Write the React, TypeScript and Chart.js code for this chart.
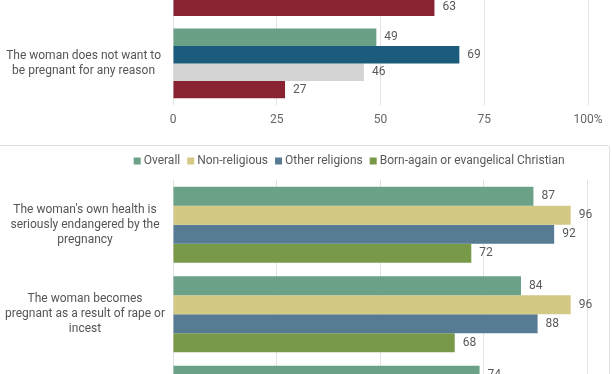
import React, { useEffect, useRef } from 'react';
import { Chart, registerables } from 'chart.js';

Chart.register(...registerables);

// ---------- data ----------
const topCategories: string[][] = [[''], ['The woman does not want to', 'be pregnant for any reason']];
const topSeriesNames = ['Overall', 'Democrat', 'Independent', 'Republican'];
const topOverall = [null, 49];
const topDemocrat = [null, 69];
const topIndependent = [null, 46];
const topRepublican = [63, 27];
const topColors = ['#6aa085', '#1b5b7b', '#d4d4d4', '#8a2331'];

const bottomCategories: string[][] = [
  ["The woman's own health is", 'seriously endangered by the', 'pregnancy'],
  ['The woman becomes', 'pregnant as a result of rape or', 'incest'],
  [''],
];
const bottomSeriesNames = ['Overall', 'Non-religious', 'Other religions', 'Born-again or evangelical Christian'];
const bottomOverall = [87, 84, 74];
const bottomNonReligious = [96, 96, null];
const bottomOtherReligions = [92, 88, null];
const bottomBornAgain = [72, 68, null];
const bottomColors = ['#6ba287', '#d4c984', '#577b93', '#789a48'];

const xTickValues = [0, 25, 50, 75, 100];
const xTickLabels = ['0', '25', '50', '75', '100%'];

// ---------- plugins ----------
const valueLabels = {
  id: 'valueLabels',
  afterDatasetsDraw(chart: any) {
    const { ctx } = chart;
    ctx.save();
    ctx.font = '12px Roboto';
    ctx.fillStyle = '#595959';
    ctx.textAlign = 'left';
    ctx.textBaseline = 'middle';
    chart.data.datasets.forEach((ds: any, i: number) => {
      const meta = chart.getDatasetMeta(i);
      if (meta.hidden) return;
      meta.data.forEach((el: any, j: number) => {
        const v = ds.data[j];
        if (v === null || v === undefined) return;
        ctx.fillText(String(v), el.x + 8, el.y);
      });
    });
    ctx.restore();
  },
};

const legendTweak = {
  id: 'legendTweak',
  beforeLayout(chart: any, _args: any, opts: any) {
    const lg = chart.legend;
    if (lg && !lg.__tweaked) {
      const fit = lg.fit;
      lg.fit = function () {
        fit.call(this);
        this.height += opts.extraHeight || 0;
      };
      lg.__tweaked = true;
    }
  },
  afterLayout(chart: any, _args: any, opts: any) {
    const lg = chart.legend;
    if (lg) {
      lg.left += opts.shiftX || 0;
      lg.right += opts.shiftX || 0;
    }
  },
};

function xScale(tickPadding: number) {
  return {
    type: 'linear' as const,
    min: 0,
    max: 100,
    afterBuildTicks: (scale: any) => {
      scale.ticks = xTickValues.map((v) => ({ value: v }));
    },
    ticks: {
      padding: tickPadding,
      color: '#666666',
      font: { size: 12, family: 'Roboto' },
      callback: (v: any) => {
        const idx = xTickValues.indexOf(Number(v));
        return idx >= 0 ? xTickLabels[idx] : '';
      },
    },
    grid: { color: '#e2e2e2', drawTicks: false, lineWidth: 1 },
    border: { display: false },
  };
}

function yScale(padding: number, lineHeight: number) {
  return {
    type: 'category' as const,
    afterFit: (scale: any) => {
      scale.width = 173;
      scale.paddingTop = 0;
      scale.paddingBottom = 0;
    },
    ticks: {
      crossAlign: 'center' as const,
      padding,
      color: '#555555',
      font: { size: 12, family: 'Roboto', lineHeight },
      autoSkip: false,
    },
    grid: { display: false, drawTicks: false },
    border: { display: false },
  };
}

function TopChart() {
  const ref = useRef<HTMLCanvasElement | null>(null);
  useEffect(() => {
    if (!ref.current) return;
    const series = [topOverall, topDemocrat, topIndependent, topRepublican];
    const chart = new Chart(ref.current, {
      type: 'bar',
      data: {
        labels: topCategories,
        datasets: series.map((d, i) => ({
          label: topSeriesNames[i],
          data: d,
          backgroundColor: topColors[i],
          borderWidth: 0,
          categoryPercentage: 0.848,
          barPercentage: 1,
        })),
      },
      options: {
        indexAxis: 'y',
        responsive: false,
        animation: false,
        layout: { padding: { top: 0, right: 24, bottom: 5, left: 0 } },
        plugins: { legend: { display: false }, tooltip: { enabled: false } },
        scales: { x: xScale(8), y: yScale(12, 1.2) },
      },
      plugins: [valueLabels],
    } as any);
    return () => chart.destroy();
  }, []);
  return (
    <div style={{ position: 'absolute', left: 0, top: -60, width: 612, height: 200 }}>
      <canvas ref={ref} width={612} height={200} />
    </div>
  );
}

function BottomChart() {
  const ref = useRef<HTMLCanvasElement | null>(null);
  useEffect(() => {
    if (!ref.current) return;
    const series = [bottomOverall, bottomNonReligious, bottomOtherReligions, bottomBornAgain];
    const chart = new Chart(ref.current, {
      type: 'bar',
      data: {
        labels: bottomCategories,
        datasets: series.map((d, i) => ({
          label: bottomSeriesNames[i],
          data: d,
          backgroundColor: bottomColors[i],
          borderWidth: 0,
          categoryPercentage: 0.848,
          barPercentage: 1,
        })),
      },
      options: {
        indexAxis: 'y',
        responsive: false,
        animation: false,
        layout: { padding: { top: 0, right: 24.7, bottom: 0, left: 0 } },
        plugins: {
          tooltip: { enabled: false },
          legend: {
            display: true,
            position: 'top',
            align: 'center',
            labels: {
              usePointStyle: true,
              pointStyle: 'rect',
              boxWidth: 1,
              boxHeight: 7,
              padding: 10,
              color: '#595959',
              font: { size: 12, family: 'Roboto' },
            },
          },
          legendTweak: { extraHeight: 3, shiftX: 57 },
        },
        scales: { x: xScale(6), y: yScale(8, 1.25) },
      },
      plugins: [valueLabels, legendTweak],
    } as any);
    return () => chart.destroy();
  }, []);
  return (
    <div style={{ position: 'absolute', left: 0, top: 145, width: 612, height: 330 }}>
      <canvas ref={ref} width={612} height={330} />
    </div>
  );
}

export default function App() {
  return (
    <div
      style={{
        position: 'absolute',
        left: 0,
        top: 0,
        width: 612,
        height: 374,
        overflow: 'hidden',
        background: '#ffffff',
      }}
    >
      <TopChart />
      <BottomChart />
      <div
        style={{
          position: 'absolute',
          left: -20,
          top: 145,
          width: 630,
          height: 300,
          boxSizing: 'border-box',
          borderTop: '1px solid #dcdcdc',
          borderRight: '1px solid #e2e2e2',
          borderLeft: '1px solid #dcdcdc',
          borderTopRightRadius: 4,
          pointerEvents: 'none',
        }}
      />
    </div>
  );
}
